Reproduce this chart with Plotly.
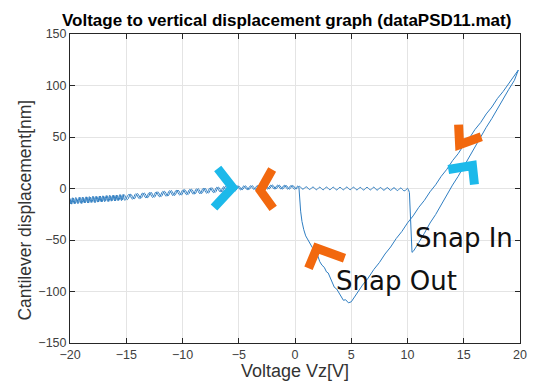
import plotly.graph_objects as go

# ---------------- data ----------------
# approach: noisy baseline (V, nm)
appr_base_x = [-20.0,-19.85,-19.7,-19.55,-19.4,-19.25,-19.1,-18.95,-18.8,-18.65,
               -18.5,-18.35,-18.2,-18.05,-17.9,-17.75,-17.6,-17.45,-17.3,-17.15,
               -17.0,-16.85,-16.7,-16.55,-16.4,-16.25,-16.1,-15.95,-15.8,-15.65,
               -15.5,-15.35,-15.2,-14.9,-14.6,-14.3,
               -14.0,-13.7,-13.4,-13.1,-12.8,-12.5,-12.2,-11.9,-11.6,-11.3,
               -11.0,-10.7,-10.4,-10.1,-9.8,-9.5,-9.2,-8.9,-8.6,-8.3,
               -8.0,-7.7,-7.4,-7.1,-6.8,-6.5,-6.2,-5.9,-5.6,-5.3,
               -5.0,-4.7,-4.4,-4.1,-3.8,-3.5,-3.2,-2.9,-2.6,-2.3,
               -2.0,-1.7,-1.4,-1.1,-0.8,-0.5,-0.2,0.1,0.4,0.7,
               1.0,1.3,1.6,1.9,2.2,2.5,2.8,3.1,3.4,3.7,
               4.0,4.3,4.6,4.9,5.2,5.5,5.8,6.1,6.4,6.7,
               7.0,7.3,7.6,7.9,8.2,8.5,8.8,9.1,9.4,9.7,
               10.0]
appr_base_y = [-9.6,-15.2,-9.2,-14.8,-9.9,-14.4,-8.7,-14.6,-8.9,-13.9,
               -8.2,-14.1,-8.5,-13.4,-7.9,-13.6,-8.0,-12.9,-7.4,-13.0,
               -7.6,-12.3,-7.0,-12.5,-7.1,-11.8,-6.6,-11.9,-6.7,-11.3,
               -6.1,-11.2,-5.9,-10.8,-5.5,-10.2,
               -4.9,-9.6,-4.3,-9.0,-3.7,-8.5,-3.2,-7.9,-2.6,-7.3,
               -2.0,-6.8,-1.5,-6.3,-1.1,-5.9,-0.6,-5.4,-0.2,-4.9,
               0.3,-4.5,0.8,-3.9,1.4,-3.3,2.0,-2.8,2.5,-2.2,
               2.3,-1.2,2.5,-1.0,2.7,-0.8,2.9,-0.6,3.1,-0.4,
               3.3,-0.4,3.2,-0.5,3.0,-0.6,2.9,-0.3,2.1,-0.7,
               1.7,-1.0,1.5,-1.2,1.3,-1.3,1.4,-1.2,1.3,-1.4,
               1.2,-1.3,1.4,-1.2,1.3,-1.4,1.1,-1.5,1.2,-1.4,
               1.3,-1.6,1.0,-1.7,0.9,-1.8,0.8,-2.0,0.5,-2.3,
               0.2]

# snap-in and contact (loading) line
snapin_x = [10.0, 10.08, 10.17, 10.28, 10.4, 10.55, 10.8, 11.0, 11.5, 12.0, 12.5, 13.0,
            13.5, 14.0, 14.5, 15.0, 15.5, 16.0, 16.5, 17.0, 17.5, 18.0, 18.5,
            19.0, 19.5, 19.85]
snapin_y = [0.2, -1.0, -4.0, -35.0, -62.0, -60.5, -56.5, -52.5, -43.5, -33.5, -25.3, -15.5,
            -6.8, 3.3, 11.8, 21.5, 30.2, 40.6, 49.2, 59.4, 68.0, 77.8, 86.5,
            96.2, 105.0, 115.0]

# unloading line, adhesion minimum and snap-out
retract_x = [19.85, 19.5, 19.0, 18.5, 18.0, 17.5, 17.0, 16.5, 16.0, 15.5, 15.0,
             14.5, 14.0, 13.5, 13.0, 12.5, 12.0, 11.5, 11.0, 10.5, 10.0, 9.5,
             9.0, 8.5, 8.0, 7.5, 7.0, 6.5, 6.0, 5.6, 5.25, 5.0, 4.75, 4.5, 4.3,
             4.1, 3.9, 3.7, 3.5, 3.3, 3.1, 2.95, 2.8, 2.6, 2.4, 2.2, 2.0, 1.8,
             1.55, 1.3, 1.15, 0.95, 0.78, 0.62, 0.5, 0.4, 0.35]
retract_y = [115.0, 109.5, 102.6, 94.2, 87.5, 79.1, 72.4, 64.0, 57.3, 48.9, 42.1,
             33.8, 27.0, 18.7, 11.9, 3.6, -3.2, -11.5, -18.3, -26.6, -33.4, -41.7,
             -48.5, -56.8, -63.6, -71.9, -78.7, -87.0, -93.8, -100.5, -106.5, -110.0, -111.0, -108.0, -108.5,
             -105.0, -101.0, -97.5, -96.0, -91.0, -86.5, -82.0, -81.0, -76.5, -74.5, -71.0, -64.5, -62.5,
             -57.5, -53.0, -50.0, -46.0, -40.0, -32.0, -22.0, -10.0, 1.0]

# retract: noisy baseline back to -20 V
retr_base_x = [0.35,0.25,-0.05,-0.35,-0.65,-0.95,-1.25,-1.55,-1.85,-2.15,-2.45,
               -2.75,-3.05,-3.35,-3.65,-3.95,-4.25,-4.55,-4.85,-5.15,-5.45,
               -5.75,-6.05,-6.35,-6.65,-6.95,-7.25,-7.55,-7.85,-8.15,-8.45,
               -8.75,-9.05,-9.35,-9.65,-9.95,-10.25,-10.55,-10.85,-11.15,-11.45,
               -11.75,-12.05,-12.35,-12.65,-12.95,-13.25,-13.55,-13.85,-14.15,-14.45,
               -14.75,-15.13,-15.28,-15.43,-15.58,-15.73,-15.88,-16.03,-16.18,-16.33,
               -16.48,-16.63,-16.78,-16.93,-17.08,-17.23,-17.38,-17.53,-17.68,-17.83,
               -17.98,-18.13,-18.28,-18.43,-18.58,-18.73,-18.88,-19.03,-19.18,-19.33,
               -19.48,-19.63,-19.78,-19.93,-20.0]
retr_base_y = [1.0,2.4,-0.7,2.9,-0.6,3.1,-0.5,3.2,-0.4,3.2,-0.5,
               3.0,-0.7,2.8,-0.9,2.6,-1.1,2.5,-1.3,2.7,-2.2,
               2.2,-2.8,1.7,-3.4,1.2,-4.0,0.6,-4.6,0.2,-5.1,
               -0.3,-5.5,-0.8,-6.0,-1.2,-6.4,-1.7,-6.9,-2.1,-7.5,
               -2.8,-8.1,-3.3,-8.7,-3.9,-9.2,-4.4,-9.8,-5.0,-10.4,
               -5.6,-11.5,-5.8,-11.8,-6.0,-11.9,-6.3,-12.1,-6.5,-12.3,
               -6.6,-12.6,-6.9,-12.7,-7.1,-13.0,-7.3,-13.2,-7.5,-13.5,
               -7.6,-13.6,-7.9,-13.9,-8.1,-14.0,-8.3,-14.3,-8.5,-14.5,
               -8.7,-14.7,-9.0,-15.0,-12.0]

# pointer chevrons drawn on the figure (data coordinates)
cyan_left_x = [-6.87, -5.55, -7.2]
cyan_left_y = [19.4, 1.0, -18.4]
orange_left_x = [-2.03, -3.08, -1.94]
orange_left_y = [18.4, -2.0, -19.4]
orange_out_x = [1.2, 1.94, 4.4]
orange_out_y = [-77.4, -58.0, -67.8]
orange_up_x = [14.54, 14.63, 16.56]
orange_up_y = [62.0, 42.6, 50.3]
cyan_up_x = [13.63, 15.77, 15.95]
cyan_up_y = [18.4, 22.3, 3.9]

x_ticks = [-20, -15, -10, -5, 0, 5, 10, 15, 20]
y_ticks = [-150, -100, -50, 0, 50, 100, 150]

LINE = '#2f7ec2'
CYAN = '#1cb9ea'
ORANGE = '#f2680e'

fig = go.Figure()
fig.add_trace(go.Scatter(x=appr_base_x, y=appr_base_y, mode='lines',
                         line=dict(color=LINE, width=1.0, shape='spline', smoothing=1.0)))
fig.add_trace(go.Scatter(x=snapin_x, y=snapin_y, mode='lines', line=dict(color=LINE, width=1.0)))
fig.add_trace(go.Scatter(x=retract_x, y=retract_y, mode='lines', line=dict(color=LINE, width=1.0)))
fig.add_trace(go.Scatter(x=retr_base_x, y=retr_base_y, mode='lines',
                         line=dict(color=LINE, width=1.0, shape='spline', smoothing=1.0)))

for xs, ys, c in [(cyan_left_x, cyan_left_y, CYAN), (orange_left_x, orange_left_y, ORANGE),
                  (orange_out_x, orange_out_y, ORANGE), (orange_up_x, orange_up_y, ORANGE),
                  (cyan_up_x, cyan_up_y, CYAN)]:
    fig.add_trace(go.Scatter(x=xs, y=ys, mode='lines', line=dict(color=c, width=9)))

FONT = 'Liberation Sans, Arial, sans-serif'
axis_common = dict(showgrid=True, gridcolor='#e4e4e4', gridwidth=1, zeroline=False,
                   showline=True, linecolor='#262626', linewidth=1, mirror='ticks',
                   ticks='inside', ticklen=5, tickcolor='#262626',
                   tickfont=dict(family=FONT, size=12.5, color='#404040'))

# the page body keeps its default 8 px margin, so the figure is 8 px smaller
fig.update_layout(
    width=531, height=375,
    margin=dict(l=62, r=14, t=26, b=40),
    paper_bgcolor='white', plot_bgcolor='white',
    showlegend=False,
    xaxis=dict(range=[-20, 20], tickvals=x_ticks, **axis_common),
    yaxis=dict(range=[-150, 150], tickvals=y_ticks, **axis_common),
    annotations=[
        dict(text='<b>Voltage to vertical displacement graph (dataPSD11.mat)</b>',
             xref='paper', yref='paper', x=0.481, y=1.045, xanchor='center', yanchor='middle',
             showarrow=False, font=dict(family=FONT, size=17, color='black')),
        dict(text='Voltage Vz[V]', xref='paper', yref='paper', x=0.499, y=-0.092,
             xanchor='center', yanchor='middle', showarrow=False,
             font=dict(family=FONT, size=18, color='#333333')),
        dict(text='Cantilever displacement[nm]', xref='paper', yref='paper', x=-0.099, y=0.43,
             xanchor='center', yanchor='middle', textangle=-90, showarrow=False,
             font=dict(family=FONT, size=17.5, color='#333333')),
        dict(text='Snap In', xref='x', yref='y', x=10.45, y=-48.4, xanchor='left', yanchor='middle',
             showarrow=False, font=dict(family='DejaVu Sans, sans-serif', size=26, color='#111111')),
        dict(text='Snap Out', xref='x', yref='y', x=3.45, y=-90, xanchor='left', yanchor='middle',
             showarrow=False, font=dict(family='DejaVu Sans, sans-serif', size=26, color='#111111')),
    ],
)

fig.write_html('out.html')
